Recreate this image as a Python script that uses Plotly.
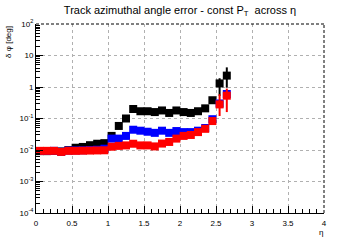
import plotly.graph_objects as go

eta = [0.05, 0.15, 0.25, 0.35, 0.45, 0.55, 0.65, 0.75, 0.85, 0.95,
       1.05, 1.15, 1.25, 1.35, 1.45, 1.55, 1.65, 1.75, 1.85, 1.95,
       2.05, 2.15, 2.25, 2.35, 2.45, 2.55, 2.65]

err_black = [0.0092, 0.0092, 0.0093, 0.0090, 0.0099, 0.0118, 0.0125, 0.0142, 0.0158, 0.0165,
             0.028, 0.058, 0.10, 0.20, 0.17, 0.17, 0.16, 0.18, 0.15, 0.18,
             0.16, 0.15, 0.17, 0.21, 0.38, 1.3, 2.3]
err_black_up = [0, 0, 0, 0, 0, 0, 0, 0, 0, 0,
                0, 0, 0, 0, 0, 0, 0, 0, 0, 0,
                0, 0, 0, 0, 0.02, 0.6, 1.9]
err_black_dn = [0, 0, 0, 0, 0, 0, 0, 0, 0, 0,
                0, 0, 0, 0, 0, 0, 0, 0, 0, 0,
                0, 0, 0, 0, 0.02, 0.78, 1.35]

err_blue = [0.0093, 0.0093, 0.0094, 0.0088, 0.0096, 0.0097, 0.0098, 0.0100, 0.0102, 0.0110,
            0.023, 0.023, 0.028, 0.044, 0.041, 0.038, 0.035, 0.041, 0.035, 0.040,
            0.037, 0.037, 0.041, 0.050, 0.095, 0.30, 0.60]

err_red = [0.0094, 0.0094, 0.0094, 0.0087, 0.0094, 0.0094, 0.0095, 0.0096, 0.0097, 0.0098,
           0.0127, 0.0135, 0.0140, 0.0158, 0.0140, 0.0140, 0.0130, 0.0160, 0.0180, 0.0230,
           0.028, 0.030, 0.037, 0.047, 0.083, 0.28, 0.53]
err_red_up = [0, 0, 0, 0, 0, 0, 0, 0, 0, 0,
              0, 0, 0, 0, 0, 0, 0, 0, 0, 0,
              0, 0, 0, 0, 0.005, 0.31, 0.36]
err_red_dn = [0, 0, 0, 0, 0, 0, 0, 0, 0, 0,
              0, 0, 0, 0, 0, 0, 0, 0, 0, 0,
              0, 0, 0, 0, 0.005, 0.16, 0.37]

ytick_vals = [1e-4, 1e-3, 1e-2, 1e-1, 1, 10, 100]
ytick_text = ["10<sup>-4</sup>", "10<sup>-3</sup>", "10<sup>-2</sup>", "10<sup>-1</sup>",
              "1", "10", "10<sup>2</sup>"]
xtick_vals = [0, 0.5, 1, 1.5, 2, 2.5, 3, 3.5, 4]
xtick_text = ["0", "0.5", "1", "1.5", "2", "2.5", "3", "3.5", "4"]

FONT = "Liberation Sans, Arial, Helvetica, sans-serif"

fig = go.Figure()
for y, col, up, dn in [(err_black, "black", err_black_up, err_black_dn),
                       (err_blue, "blue", None, None),
                       (err_red, "red", err_red_up, err_red_dn)]:
    ey = None
    if up is not None:
        ey = dict(type="data", symmetric=False, array=up, arrayminus=dn,
                  color=col, thickness=2, width=0)
    fig.add_trace(go.Scatter(
        x=eta, y=y, mode="markers",
        marker=dict(symbol="square", size=8, color=col, line=dict(width=0)),
        error_y=ey, showlegend=False, hoverinfo="skip"))

fig.update_layout(
    width=360, height=240,
    margin=dict(l=36, r=36, t=24, b=25),
    paper_bgcolor="white", plot_bgcolor="white",
    font=dict(family=FONT, size=8, color="black"),
    title=dict(text="Track azimuthal angle error - const P<sub>T</sub>  across η",
               x=0.5, xanchor="center", y=0.975, yanchor="top",
               font=dict(family=FONT, size=11, color="black")),
    xaxis=dict(range=[0, 4], tickvals=xtick_vals, ticktext=xtick_text,
               ticks="inside", ticklen=7, tickcolor="black", tickwidth=1,
               showline=True, linecolor="black", linewidth=1, mirror=False,
               showgrid=True, gridcolor="#b0b0b0", griddash="dot", gridwidth=1,
               zeroline=False,
               minor=dict(ticks="inside", ticklen=4, dtick=0.1, tickcolor="black", showgrid=False),
               tickfont=dict(size=8), ticklabelstandoff=2),
    yaxis=dict(type="log", range=[-4, 2], tickvals=ytick_vals, ticktext=ytick_text,
               ticks="inside", ticklen=7, tickcolor="black", tickwidth=1,
               showline=True, linecolor="black", linewidth=1, mirror=False,
               showgrid=True, gridcolor="#b0b0b0", griddash="dot", gridwidth=1,
               zeroline=False,
               minor=dict(ticks="inside", ticklen=4, dtick="D1", tickcolor="black", showgrid=False),
               tickfont=dict(size=8)),
)

# dashed top and right edges
fig.add_shape(type="line", xref="paper", yref="paper", x0=0, x1=1, y0=1, y1=1,
              line=dict(color="black", width=1, dash="3px,2px"))
fig.add_shape(type="line", xref="paper", yref="paper", x0=1, x1=1, y0=0, y1=1,
              line=dict(color="black", width=1, dash="3px,2px"))

fig.add_annotation(text="δ φ [deg]", xref="paper", yref="paper", x=-0.075, y=1.0,
                   xanchor="right", yanchor="top", textangle=-90, showarrow=False,
                   font=dict(family=FONT, size=8, color="black"))
fig.add_annotation(text="η", xref="paper", yref="paper", x=0.99, y=-0.07,
                   xanchor="center", yanchor="top", showarrow=False,
                   font=dict(family=FONT, size=8, color="black"))

fig.write_html("out.html")
